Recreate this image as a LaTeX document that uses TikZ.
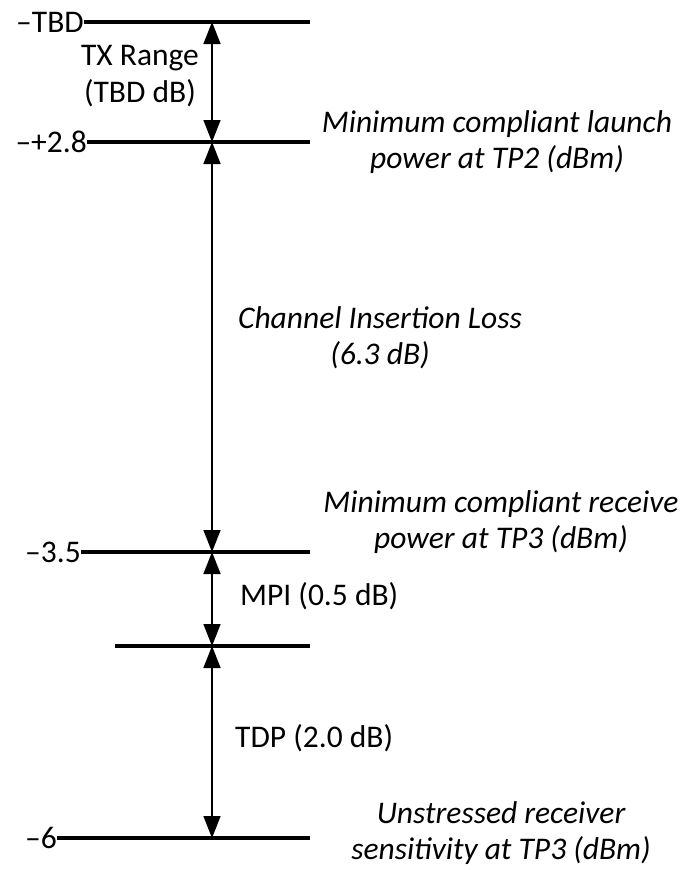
\documentclass[tikz,border=0pt]{standalone}
\usepackage{fontspec}
\setmainfont{Carlito}
\usetikzlibrary{arrows.meta}

\begin{document}
\begin{tikzpicture}[x=1pt, y=-1pt, >={Triangle[length=22pt,width=17pt]}, inner sep=0pt,
                    font=\fontsize{31.5}{37}\selectfont]

    \tikzstyle{level}=[line width=3.2pt]
    \tikzstyle{span}=[<->, line width=1.6pt]
    \tikzstyle{value}=[anchor=east]
    \tikzstyle{note}=[align=center, font=\fontsize{31.5}{36}\selectfont\itshape]
    \tikzstyle{gap}=[align=center]

    \useasboundingbox (0,0) rectangle (690,870);

    % values on the left
    \node[value] (tbd) at (84,22)  {–TBD};
    \node[value] (p28) at (87,142) {–+2.8};
    \node[value] (m35) at (81,552) {–3.5};
    \node[value] (m6)  at (57,838) {–6};
    \coordinate  (mpi) at (115,646);

    % right ends of the levels
    \coordinate (tbdR) at (310,22);
    \coordinate (p28R) at (310,142);
    \coordinate (m35R) at (310,552);
    \coordinate (mpiR) at (310,646);
    \coordinate (m6R)  at (310,838);

    % points on the axis
    \coordinate (a0) at (212,22);
    \coordinate (a1) at (212,142);
    \coordinate (a2) at (212,552);
    \coordinate (a3) at (212,646);
    \coordinate (a4) at (212,838);

    \draw[level] (tbd.east) -- (tbdR);
    \draw[level] (p28.east) -- (p28R);
    \draw[level] (m35.east) -- (m35R);
    \draw[level] (mpi)      -- (mpiR);
    \draw[level] (m6.east)  -- (m6R);

    \draw[span] (a0) -- (a1);
    \draw[span] (a1) -- (a2);
    \draw[span] (a2) -- (a3);
    \draw[span] (a3) -- (a4);

    % labels of the spans
    \node[gap] (txr) at (140,76) {TX Range\\(TBD dB)};
    \node[note] (cil) at (380,338) {Channel Insertion Loss\\(6.3 dB)};
    \node[gap, anchor=base west] (mpil) at (240,605) {MPI (0.5 dB)};
    \node[gap, anchor=base west] (tdpl) at (235,747) {TDP (2.0 dB)};

    % meaning of the levels
    \node[note] (launch)  at (497,142) {Minimum compliant launch\\power at TP2 (dBm)};
    \node[note] (receive) at (501,522) {Minimum compliant receive\\power at TP3 (dBm)};
    \node[note] (sens)    at (501,833) {Unstressed receiver\\sensitivity at TP3 (dBm)};
\end{tikzpicture}
\end{document}
